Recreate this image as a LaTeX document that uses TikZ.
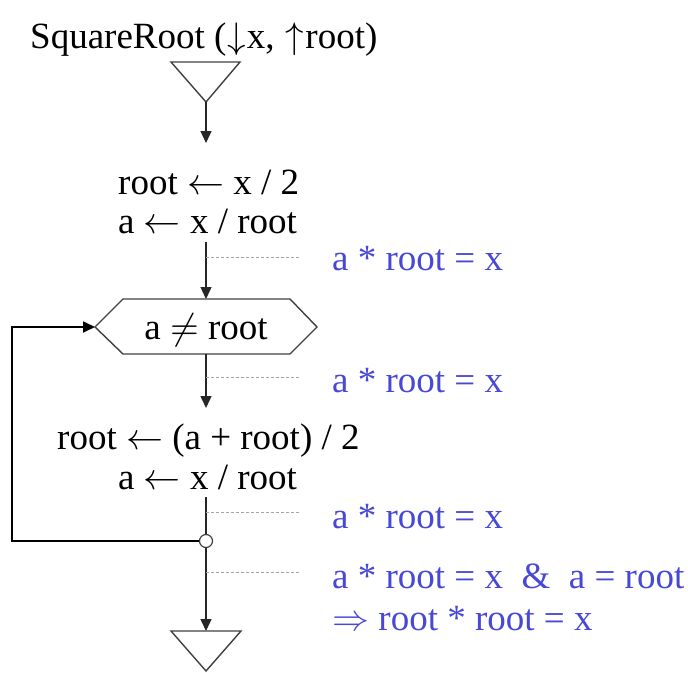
\documentclass[tikz,border=0pt]{standalone}
\usepackage{graphicx}
\usepackage{fontspec}
\setmainfont{Liberation Serif}
\usetikzlibrary{arrows.meta}
\definecolor{invblue}{RGB}{72,72,214}
\newcommand{\msym}[1]{\scalebox{3.7}{\normalsize$#1$}}
\begin{document}
\begin{tikzpicture}[x=1pt,y=-1pt,
  txt/.style={inner sep=0pt,font=\fontsize{37}{41}\selectfont,anchor=base west},
  inv/.style={txt,text=invblue},
  flow/.style={draw=black!85,line width=1.4pt,-{Triangle[length=12pt,width=11pt]}},
  plainline/.style={draw=black!85,line width=1.4pt},
  loopline/.style={draw=black,line width=1.8pt,-{Triangle[length=12pt,width=11pt]}},
  assert/.style={draw=gray!70,line width=1pt,dash pattern=on 3pt off 2pt},
  outline/.style={draw=black!75,line width=1.4pt,line join=miter}]
\useasboundingbox (0,0) rectangle (688,672);

% title
\node[txt] (title) at (30,48) {SquareRoot (\kern1pt\msym{\downarrow}\kern1pt x, \kern2pt\msym{\uparrow}\kern1pt root)};

% start triangle
\draw[outline] (171,62) -- (240,62) -- (206,102) -- cycle;
\coordinate (startapex) at (206,102);

% first block
\node[txt] (s1) at (118,194) {root \msym{\leftarrow} x / 2};
\node[txt] (s2) at (118,233) {a \msym{\leftarrow} x / root};
\coordinate (s1top) at (206,143);
\coordinate (s2bot) at (206,242);

% loop condition hexagon
\draw[outline] (95,327) -- (123,299) -- (290,299) -- (317,327) -- (290,354) -- (123,354) -- cycle;
\node[txt,anchor=base] (cond) at (206,339) {a \msym{\neq} root};
\coordinate (hexT) at (206,299);
\coordinate (hexB) at (206,354);
\coordinate (hexL) at (95,327);

% loop body
\node[txt] (b1) at (57,449) {root \msym{\leftarrow} (a + root) / 2};
\node[txt] (b2) at (118,489) {a \msym{\leftarrow} x / root};
\coordinate (b1top) at (206,408);
\coordinate (b2bot) at (206,497);

% junction
\node[circle,draw=black!75,line width=1.2pt,fill=white,minimum size=13pt,inner sep=0pt] (j) at (206,541) {};
\coordinate (loopBL) at (12,541);
\coordinate (loopTL) at (12,327);

% end triangle
\draw[outline] (171,631) -- (241,631) -- (206,671) -- cycle;
\coordinate (endtop) at (206,631);

% connectors
\draw[flow] (startapex) -- (s1top);
\draw[flow] (s2bot) -- (hexT);
\draw[flow] (hexB) -- (b1top);
\draw[plainline] (b2bot) -- (j.north);
\draw[loopline] (j.west) -- (loopBL) -- (loopTL) -- (hexL);
\draw[flow] (j.south) -- (endtop);

% assertions
\coordinate (a1s) at (206,257); \coordinate (a1e) at (300,257);
\coordinate (a2s) at (206,377); \coordinate (a2e) at (300,377);
\coordinate (a3s) at (206,512); \coordinate (a3e) at (300,512);
\coordinate (a4s) at (206,572); \coordinate (a4e) at (300,572);
\draw[assert] (a1s) -- (a1e);
\draw[assert] (a2s) -- (a2e);
\draw[assert] (a3s) -- (a3e);
\draw[assert] (a4s) -- (a4e);
\node[inv] (i1) at (332,270) {a * root = x};
\node[inv] (i2) at (332,392) {a * root = x};
\node[inv] (i3) at (332,528) {a * root = x};
\node[inv] (i4) at (332,588) {a * root = x\ \ \&\ \ a = root};
\node[inv] (i5) at (332,630) {\msym{\Rightarrow} root * root = x};
\end{tikzpicture}
\end{document}
